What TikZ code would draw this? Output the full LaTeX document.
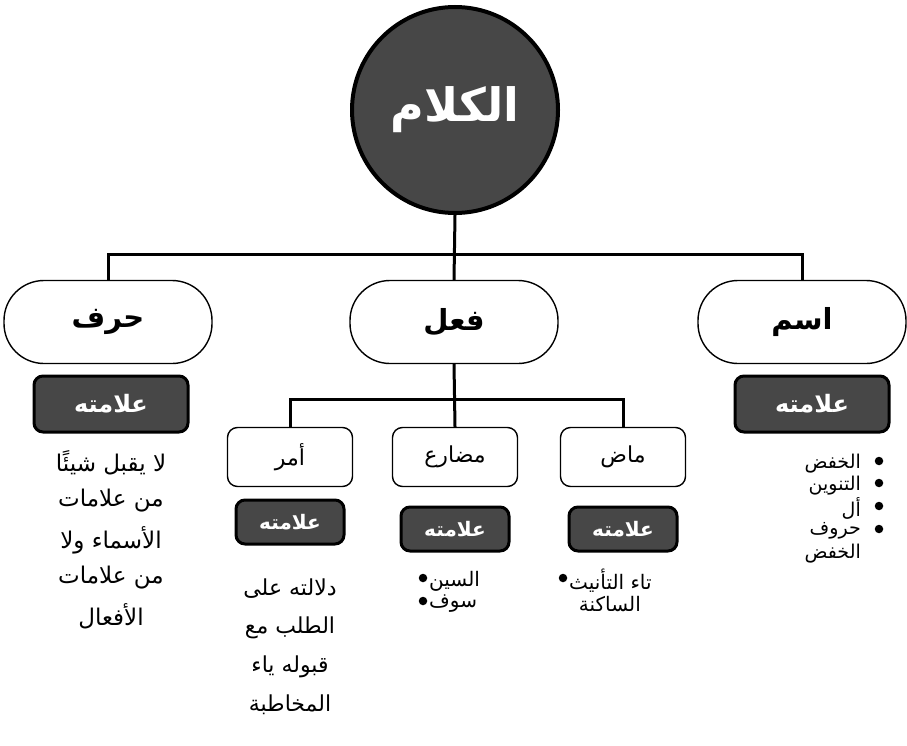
\documentclass[tikz,border=0pt]{standalone}
\usepackage{fontspec}
\TeXXeTstate=1
\newfontfamily\arabicfont[Script=Arabic]{DejaVu Sans}
\newcommand\artxt[1]{\beginR #1\endR}
\begin{document}
\begin{tikzpicture}[x=1pt,y=-1pt,
  conn/.style={line width=3pt},
  topnode/.style={draw, line width=1.4pt, rounded corners=40pt, minimum width=208pt, minimum height=83pt, font=\arabicfont\bfseries\fontsize{29}{34}\selectfont},
  subbox/.style={draw, line width=1.4pt, rounded corners=10pt, minimum width=125pt, minimum height=59pt, font=\arabicfont\fontsize{22}{26}\selectfont},
  markbig/.style={fill=black!72, draw=black, line width=3pt, rounded corners=9pt, minimum width=154pt, minimum height=56pt, text=white, font=\arabicfont\bfseries\fontsize{24}{28}\selectfont},
  marksmall/.style={markbig, minimum width=108pt, minimum height=44pt, font=\arabicfont\bfseries\fontsize{20}{24}\selectfont},
  body/.style={font=\arabicfont\fontsize{23}{28}\selectfont, inner sep=0pt},
  bodyA/.style={body, font=\arabicfont\fontsize{22}{26}\selectfont},
  bodyR/.style={body, anchor=east, font=\arabicfont\fontsize{20}{24}\selectfont},
  bodyL/.style={body, anchor=west, font=\arabicfont\fontsize{20}{24}\selectfont},
  bodyI/.style={body, anchor=east, font=\arabicfont\fontsize{19}{22}\selectfont},
  dotmark/.style={circle, fill=black, inner sep=0pt, minimum size=8.5pt},
]
\useasboundingbox (0,0) rectangle (907,746);
% root
\node[circle, fill=black!72, draw=black, line width=4pt, minimum size=206pt, text=white, font=\arabicfont\bfseries\fontsize{46}{52}\selectfont] (kalam) at (455,110) {\artxt{الكلام}};
% level 1
\node[topnode] (harf) at (108,322) {\artxt{حرف}};
\node[topnode] (fil) at (454,322) {\artxt{فعل}};
\node[topnode] (ism) at (802,322) {\artxt{اسم}};
\draw[conn] (kalam.south) -- (fil.north);
\draw[conn] (harf.north) -- ++(0,-25) -| (ism.north);
% level 2
\node[subbox] (amr) at (290,457) {\artxt{أمر}};
\node[subbox] (mudari) at (455,457) {\artxt{مضارع}};
\node[subbox] (madi) at (623,457) {\artxt{ماض}};
\draw[conn] (fil.south) -- (mudari.north);
\draw[conn] (amr.north) -- ++(0,-27) -| (madi.north);
% marks
\node[markbig] (mharf) at (111,404) {\artxt{علامته}};
\node[markbig] (mism) at (812,404) {\artxt{علامته}};
\node[marksmall] (mamr) at (290,522) {\artxt{علامته}};
\node[marksmall] (mmud) at (455,529) {\artxt{علامته}};
\node[marksmall] (mmadi) at (623,529) {\artxt{علامته}};
% harf text
\node[body] (h1) at (111,463) {\artxt{لا يقبل شيئًا}};
\node[body] (h2) at (111,501) {\artxt{من علامات}};
\node[body] (h3) at (111,540) {\artxt{الأسماء ولا}};
\node[body] (h4) at (111,578) {\artxt{من علامات}};
\node[body] (h5) at (111,616) {\artxt{الأفعال}};
% amr text
\node[bodyA] (a1) at (290,589) {\artxt{دلالته على}};
\node[bodyA] (a2) at (290,628) {\artxt{الطلب مع}};
\node[bodyA] (a3) at (290,667) {\artxt{قبوله ياء}};
\node[bodyA] (a4) at (290,705) {\artxt{المخاطبة}};
% mudari text
\node[dotmark] (u1d) at (423,578) {};
\node[bodyL] (u1) at (429,581) {\artxt{السين}};
\node[dotmark] (u2d) at (423,601) {};
\node[bodyL] (u2) at (429,604) {\artxt{سوف}};
% madi text
\node[dotmark] (d1d) at (563,578) {};
\node[bodyL] (d1) at (569,581) {\artxt{تاء التأنيث}};
\node[bodyR] (d2) at (641,604) {\artxt{الساكنة}};
% ism list
\node[bodyI] (i1) at (861,464) {\artxt{الخفض}};
\node[bodyI] (i2) at (861,486) {\artxt{التنوين}};
\node[bodyI] (i3) at (861,508) {\artxt{أل}};
\node[bodyI] (i4) at (861,531) {\artxt{حروف}};
\node[bodyI] (i5) at (861,554) {\artxt{الخفض}};
\node[dotmark] (i1d) at (879,461) {};
\node[dotmark] (i2d) at (879,483) {};
\node[dotmark] (i3d) at (879,506) {};
\node[dotmark] (i4d) at (879,529) {};
\end{tikzpicture}
\end{document}
